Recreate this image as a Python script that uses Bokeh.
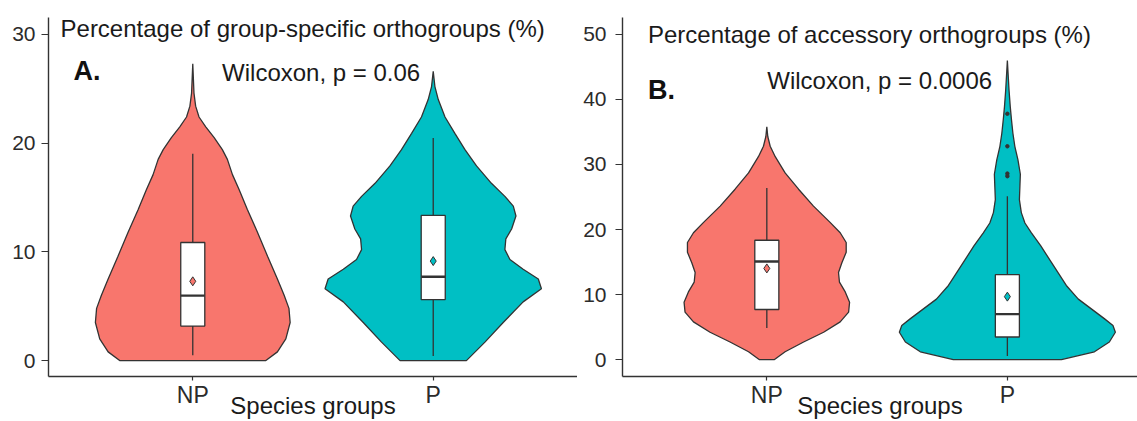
from bokeh.plotting import figure
from bokeh.layouts import row
from bokeh.models import Label, FixedTicker, Range1d
from bokeh.embed import file_html
from bokeh.resources import INLINE

categories = ["NP", "P"]
group_colors = ["#F8766D", "#00BFC4"]

# ---------------- Panel A: group-specific orthogroups (%) ----------------
# violin outlines: value (%) and half-width (category units)
a_np_vals = [0, 0.8, 2.0, 3.5, 4.8, 6.0, 7.5, 9.6, 11.8, 13.9, 15.7, 17.1, 18.5, 19.4, 20.5, 21.5, 22.4, 23.4, 24.6, 27.3]
a_np_half = [0.304, 0.352, 0.387, 0.405, 0.400, 0.380, 0.352, 0.311, 0.269, 0.227, 0.193, 0.165, 0.144, 0.123, 0.089, 0.054, 0.026, 0.012, 0.005, 0.0]
a_p_vals = [0, 1.7, 3.5, 5.4, 6.6, 7.5, 8.4, 9.3, 10.2, 11.2, 12.1, 13.3, 14.2, 15.1, 16.3, 17.9, 19.4, 20.9, 22.4, 24.0, 25.2, 26.6]
a_p_half = [0.138, 0.215, 0.291, 0.374, 0.450, 0.437, 0.374, 0.319, 0.298, 0.302, 0.326, 0.344, 0.333, 0.298, 0.242, 0.180, 0.132, 0.090, 0.049, 0.021, 0.007, 0.0]
# box statistics per group (NP, P)
a_lo = [0.49, 0.43]
a_q1 = [3.17, 5.61]
a_med = [5.97, 7.71]
a_q3 = [10.86, 13.35]
a_hi = [19.02, 20.46]
a_mean = [7.29, 9.15]
a_out = []
a_ticks = [0, 10, 20, 30]

# ---------------- Panel B: accessory orthogroups (%) ----------------
b_np_vals = [0, 1.2, 2.7, 4.2, 5.8, 7.3, 8.8, 10.4, 11.9, 13.4, 14.9, 16.5, 18.0, 19.5, 21.1, 23.6, 26.2, 28.7, 31.2, 32.8, 34.3, 35.8]
b_np_half = [0.032, 0.076, 0.153, 0.236, 0.305, 0.340, 0.344, 0.326, 0.302, 0.298, 0.312, 0.330, 0.330, 0.305, 0.263, 0.194, 0.132, 0.076, 0.035, 0.014, 0.004, 0.0]
b_p_vals = [0, 1.2, 2.7, 4.2, 5.25, 6.3, 7.8, 9.3, 11.4, 13.4, 15.4, 17.5, 19.5, 21.0, 22.6, 24.6, 26.5, 28.5, 30.7, 32.8, 34.8, 36.9, 38.9, 41.4, 44.0, 46.0]
b_p_half = [0.225, 0.362, 0.424, 0.449, 0.439, 0.403, 0.349, 0.295, 0.245, 0.210, 0.175, 0.139, 0.100, 0.073, 0.058, 0.050, 0.052, 0.054, 0.044, 0.031, 0.023, 0.017, 0.012, 0.007, 0.003, 0.0]
b_lo = [4.84, 0.57]
b_q1 = [7.7, 3.47]
b_med = [15.09, 6.99]
b_q3 = [18.35, 13.05]
b_hi = [26.4, 25.1]
b_mean = [14.02, 9.68]
b_out = [37.8, 32.8, 28.6, 28.2]
b_ticks = [0, 10, 20, 30, 40, 50]

FONT = "Liberation Sans"
DARK = "#333333"
TXT = "#1A1A1A"


def make_panel(width, y_range, x_end, border_left, tick_standoff, violins, lo, q1, med, q3, hi, mean, outliers,
               ticks, title, title_pos, letter, letter_pos, wilcox, wilcox_pos):
    p = figure(width=width, height=421, x_range=Range1d(0.4, x_end), y_range=Range1d(*y_range),
               output_backend="svg", toolbar_location=None, title=None,
               min_border_left=border_left, min_border_right=0, min_border_top=17, min_border_bottom=43)
    p.xgrid.visible = False
    p.ygrid.visible = False
    p.outline_line_color = None
    p.background_fill_color = "white"
    p.border_fill_color = "white"

    xs_pos = [1, 2]
    for (vals, half), c, col in zip(violins, xs_pos, group_colors):
        xs = [c - h for h in half] + [c + h for h in reversed(half)]
        ys = list(vals) + list(reversed(vals))
        p.patch(xs, ys, fill_color=col, line_color=DARK, line_width=1.3)

    bw = 0.05
    p.segment(x0=xs_pos, y0=lo, x1=xs_pos, y1=hi, line_color=DARK, line_width=1.3)
    p.quad(left=[c - bw for c in xs_pos], right=[c + bw for c in xs_pos], bottom=q1, top=q3,
           fill_color="white", line_color=DARK, line_width=1.3)
    p.segment(x0=[c - bw for c in xs_pos], y0=med, x1=[c + bw for c in xs_pos], y1=med,
              line_color=DARK, line_width=2.4)
    p.scatter(x=xs_pos, y=mean, marker="diamond", size=9, fill_color=group_colors,
              line_color=DARK, line_width=1)
    if outliers:
        p.scatter(x=[2] * len(outliers), y=outliers, size=3.5, color=DARK)

    # axes
    for ax in (p.xaxis[0], p.yaxis[0]):
        ax.axis_line_color = DARK
        ax.axis_line_width = 1.4
        ax.major_tick_line_color = DARK
        ax.major_tick_line_width = 1.2
        ax.major_tick_in = 0
        ax.minor_tick_line_color = None
        ax.major_label_text_font = FONT
        ax.major_label_text_color = "#2B2B2B"
    p.xaxis.ticker = FixedTicker(ticks=[1, 2])
    p.xaxis.major_label_overrides = {1: categories[0], 2: categories[1]}
    p.xaxis.major_tick_out = 4
    p.xaxis.major_label_standoff = 1
    p.xaxis.major_label_text_font_size = "23px"
    p.xaxis.axis_label = "Species groups"
    p.xaxis.axis_label_text_font = FONT
    p.xaxis.axis_label_text_font_size = "24px"
    p.xaxis.axis_label_text_font_style = "normal"
    p.xaxis.axis_label_text_color = TXT
    p.xaxis.axis_label_standoff = -19
    p.yaxis.ticker = FixedTicker(ticks=ticks)
    p.yaxis.major_tick_out = 7
    p.yaxis.major_label_standoff = tick_standoff
    p.yaxis.major_label_text_font_size = "21px"

    p.add_layout(Label(x=title_pos[0], y=title_pos[1], text=title, text_font=FONT,
                       text_font_size="24px", text_color=TXT, text_baseline="alphabetic"))
    p.add_layout(Label(x=letter_pos[0], y=letter_pos[1], text=letter, text_font=FONT,
                       text_font_size="27px", text_font_style="bold", text_color="#111111",
                       text_baseline="alphabetic"))
    p.add_layout(Label(x=wilcox_pos[0], y=wilcox_pos[1], text=wilcox, text_font=FONT,
                       text_font_size="24px", text_color=TXT, text_baseline="alphabetic"))
    return p


pa = make_panel(577, (-1.463, 31.55), 2.6, 48, 6,
                [(a_np_vals, a_np_half), (a_p_vals, a_p_half)],
                a_lo, a_q1, a_med, a_q3, a_hi, a_mean, a_out, a_ticks,
                "Percentage of group-specific orthogroups (%)", (0.45, 30.55),
                "A.", (0.504, 26.62), "Wilcoxon, p = 0.06", (1.122, 26.46))

pb = make_panel(560, (-2.6, 52.6), 2.541, 45, 9,
                [(b_np_vals, b_np_half), (b_p_vals, b_p_half)],
                b_lo, b_q1, b_med, b_q3, b_hi, b_mean, b_out, b_ticks,
                "Percentage of accessory orthogroups (%)", (0.506, 50.05),
                "B.", (0.506, 41.44), "Wilcoxon, p = 0.0006", (1.002, 42.93))

layout = row(pa, pb, spacing=0)
open("out.html", "w").write(file_html(layout, INLINE))
